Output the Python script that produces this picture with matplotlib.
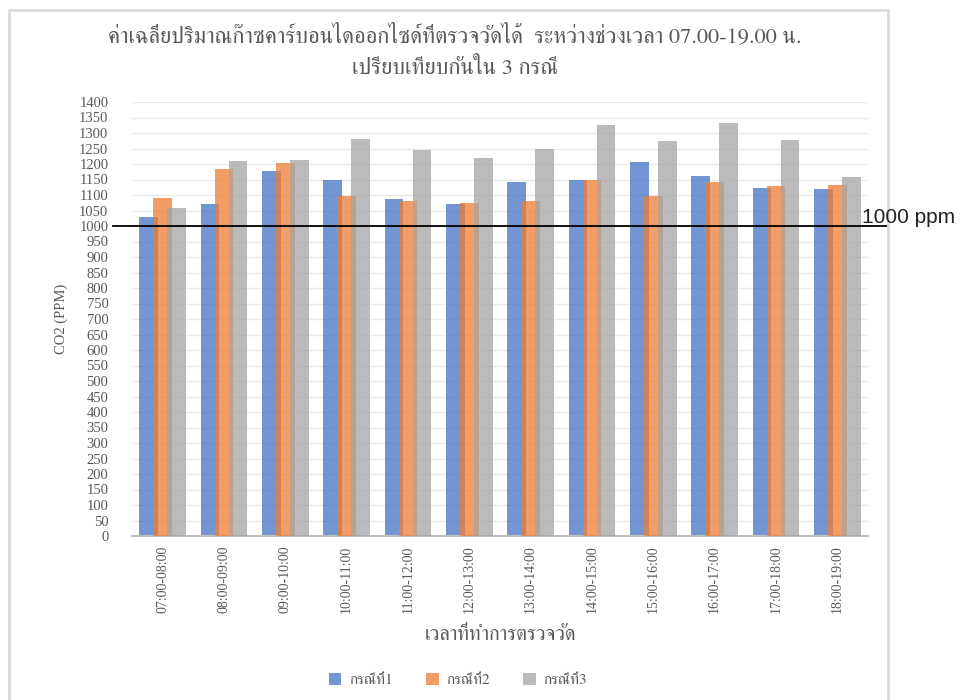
import numpy as np
import matplotlib
matplotlib.use("Agg")
import matplotlib.pyplot as plt
from matplotlib import font_manager
from matplotlib.ft2font import FT2Font
from matplotlib.patches import Rectangle

time_slots = ["07:00-08:00", "08:00-09:00", "09:00-10:00", "10:00-11:00",
              "11:00-12:00", "12:00-13:00", "13:00-14:00", "14:00-15:00",
              "15:00-16:00", "16:00-17:00", "17:00-18:00", "18:00-19:00"]
case1 = [1029, 1070, 1178, 1149, 1088, 1072, 1143, 1147, 1208, 1161, 1123, 1119]
case2 = [1090, 1183, 1204, 1097, 1082, 1075, 1080, 1147, 1097, 1143, 1128, 1133]
case3 = [1058, 1210, 1214, 1281, 1246, 1218, 1250, 1326, 1273, 1333, 1276, 1159]
case_names = ["กรณีที่1", "กรณีที่2", "กรณีที่3"]
limit_ppm = 1000

title = "ค่าเฉลี่ยปริมาณก๊าซคาร์บอนไดออกไซด์ที่ตรวจวัดได้  ระหว่างช่วงเวลา 07.00-19.00 น.\nเปรียบเทียบกันใน 3 กรณี"
xlabel = "เวลาที่ทำการตรวจวัด"
ylabel = "CO2 (PPM)"


def find_thai_font():
    # pick an installed family that actually has Thai glyphs, serif first
    found = []
    for f in font_manager.fontManager.ttflist:
        try:
            if 0x0E01 in FT2Font(f.fname).get_charmap():
                found.append(f.name)
        except Exception:
            continue
    found.sort(key=lambda n: (0 if "Serif" in n else 1, n))
    return found[0] if found else "DejaVu Sans"


thai = find_thai_font()
thai_fam = [thai, "Liberation Serif", "DejaVu Sans"]
grey_text = "#595959"

fig = plt.figure(figsize=(9.62, 7.0), dpi=100)
ax = fig.add_axes([132 / 962, 1 - 536 / 700, 736 / 962, 434 / 700])

# outer chart frame
fig.patches.append(Rectangle((9 / 962, -0.05), 879 / 962, 1.05 - 10 / 700,
                             transform=fig.transFigure, fill=False,
                             edgecolor="#D9D9D9", linewidth=2))

x = np.arange(len(time_slots))
w = 0.305
step = 0.228
colors = ["#4472C4", "#ED7D31", "#A5A5A5"]
for i, (vals, c) in enumerate(zip([case1, case2, case3], colors)):
    ax.bar(x + (i - 1) * step, vals, width=w, color=c, alpha=0.75,
           label=case_names[i], zorder=2 + i)

ax.set_xlim(-0.5, len(time_slots) - 0.5)
ax.set_ylim(0, 1400)
ax.set_yticks(np.arange(0, 1401, 50))
ax.grid(axis="y", color="#E9E9E9", linewidth=1, zorder=0)
ax.set_axisbelow(True)
for s in ["top", "right", "left"]:
    ax.spines[s].set_visible(False)
ax.spines["bottom"].set_color("#BFBFBF")
ax.spines["bottom"].set_linewidth(1.5)
ax.tick_params(axis="both", length=0, colors=grey_text)
ax.tick_params(axis="y", pad=17)
ax.tick_params(axis="x", pad=7)
ax.set_xticks(x)
ax.set_xticklabels(time_slots, rotation=90, fontfamily="Liberation Serif", fontsize=10)
for lab in ax.get_yticklabels():
    lab.set_fontfamily("Liberation Serif")
    lab.set_fontsize(10.5)

ax.set_ylabel(ylabel, fontfamily="Liberation Serif", fontsize=10.5, color=grey_text, labelpad=8)
ax.set_xlabel(xlabel, family=thai_fam, fontsize=14.5, color=grey_text, labelpad=9)

# 1000 ppm reference line
ax.axhline(limit_ppm, xmin=-0.026, xmax=1.026, color="black", linewidth=1.3,
           clip_on=False, zorder=6)
fig.text(862 / 962, 1 - 217 / 700, f"{limit_ppm} ppm", fontfamily="Liberation Sans",
         fontsize=15, color="#222222", va="center", ha="left")

fig.text(455 / 962, 1 - 52 / 700, title, family=thai_fam, fontsize=16.2,
         color=grey_text, ha="center", va="center", linespacing=1.65)

fig.legend(loc="center", bbox_to_anchor=(458 / 962, 1 - 680 / 700), ncol=3,
           frameon=False, prop={"family": thai_fam, "size": 11},
           handlelength=0.8, handleheight=0.8, columnspacing=2.2,
           handletextpad=0.5, labelcolor=grey_text)

fig.savefig("out.png", dpi=100)
